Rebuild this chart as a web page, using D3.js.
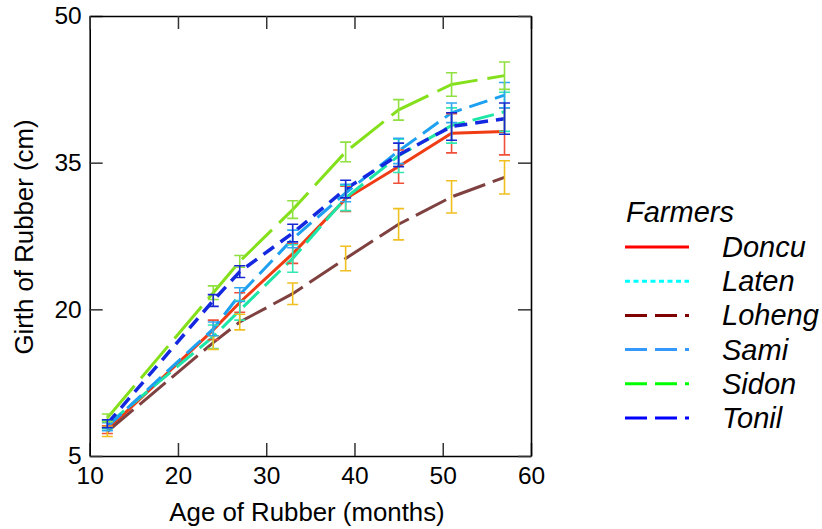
<!DOCTYPE html>
<html><head><meta charset="utf-8">
<script src="https://cdn.jsdelivr.net/npm/d3@7"></script>
<style>body{margin:0;background:#fff} svg{display:block} text{font-family:"Liberation Sans",Arial,sans-serif;fill:#000}</style>
</head><body><svg id="c" width="822" height="529"></svg>
<script>
// ---- data ----
const months = [12, 24, 27, 33, 39, 45, 51, 57];
const farmers = ["Doncu", "Laten", "Loheng", "Sami", "Sidon", "Tonil"];
const doncu  = [7.7, 17.9, 20.7, 25.7, 31.3, 34.6, 38.0, 38.2];
const laten  = [8.2, 17.2, 19.9, 25.2, 31.4, 35.7, 38.8, 40.2];
const loheng = [7.5, 16.6, 18.7, 21.6, 25.2, 28.7, 31.5, 33.5];
const sami   = [8.0, 18.0, 21.5, 27.2, 31.9, 36.2, 40.1, 41.9];
const sidon  = [8.9, 21.7, 24.9, 30.2, 36.1, 40.4, 43.0, 43.9];
const tonil  = [8.3, 20.9, 23.85, 27.8, 32.3, 35.8, 38.7, 39.5];
const doncuErr  = [0.4, 1.0, 1.0, 1.0, 1.3, 1.7, 2.0, 2.4];
const latenErr  = [0.4, 1.2, 1.0, 1.4, 1.3, 1.7, 1.8, 2.0];
const lohengErr = [0.5, 0.7, 0.8, 1.1, 1.25, 1.6, 1.65, 1.7];
const samiErr   = [0.4, 0.7, 0.7, 0.9, 0.9, 1.3, 1.0, 1.3];
const sidonErr  = [0.4, 0.7, 0.6, 0.9, 1.0, 1.05, 1.2, 1.4];
const tonilErr  = [0.4, 0.6, 0.6, 0.9, 0.9, 1.2, 1.4, 1.6];
const xTicks = [10, 20, 30, 40, 50, 60];
const yTicks = [5, 20, 35, 50];

// ---- styles ----
const lineColors   = ["#f03c14", "#1ee6a6", "#7f4040", "#1ea0f0", "#84e01a", "#1428e0"];
const errColors    = ["#f0503a", "#30e8b0", "#f0c020", "#30a8f0", "#90e040", "#1828d0"];
const lineDash     = [null, "22,8", "34,8", "19,8", "42,10", "13,8"];
const legendColors = ["#ff0000", "#00ffff", "#800000", "#3399ff", "#00ff00", "#0000ff"];
const legendDash   = [null, "5,3.5", "22,8,22,8,4,100", "22,8,22,8,4,100", "22,8,22,8,4,100", "22,8,22,8,4,100"];

const values = [doncu, laten, loheng, sami, sidon, tonil];
const errs = [doncuErr, latenErr, lohengErr, samiErr, sidonErr, tonilErr];
const series = farmers.map((f, i) => ({
  name: f, i,
  pts: months.map((m, j) => ({ x: m, y: values[i][j], e: errs[i][j] }))
}));

const svg = d3.select("#c");
const x = d3.scaleLinear().domain([10, 60]).range([89.7, 531]);
const y = d3.scaleLinear().domain([5, 50]).range([456, 16]);

// lines
const line = d3.line().x(d => x(d.x)).y(d => y(d.y));
svg.append("g").selectAll("path").data(series).join("path")
  .attr("d", d => line(d.pts))
  .attr("fill", "none")
  .attr("stroke", d => lineColors[d.i])
  .attr("stroke-width", d => d.name === "Tonil" ? 3.5 : 3)
  .attr("stroke-dasharray", d => lineDash[d.i]);

// error bars
const eb = svg.append("g");
series.forEach(s => {
  const g = eb.append("g").attr("stroke", errColors[s.i]).attr("stroke-width", 1.6).attr("fill", "none");
  g.selectAll("path").data(s.pts).join("path")
    .attr("d", d => {
      const cx = x(d.x), t = y(d.y + d.e), b = y(d.y - d.e), w = 5.5;
      return `M${cx - w},${t}H${cx + w}M${cx},${t}V${b}M${cx - w},${b}H${cx + w}`;
    });
});

// axes
const tickLen = 13;
function styleAxis(g) {
  g.select(".domain").attr("stroke", "#000").attr("stroke-width", 1.6);
  g.selectAll(".tick line").attr("stroke", "#333").attr("stroke-width", 1.5);
  g.selectAll("text").attr("font-size", 24.5).attr("fill", "#000");
}
svg.append("g").attr("transform", "translate(0,456)")
  .call(d3.axisBottom(x).tickValues(xTicks).tickSizeInner(-tickLen).tickSizeOuter(0).tickPadding(11).tickFormat(d3.format("d")))
  .call(styleAxis);
svg.append("g").attr("transform", "translate(89.7,0)")
  .call(d3.axisLeft(y).tickValues(yTicks).tickSizeInner(-tickLen).tickSizeOuter(0).tickPadding(8).tickFormat(d3.format("d")))
  .call(styleAxis);
svg.append("g").attr("transform", "translate(0,16)")
  .call(d3.axisTop(x).tickValues(xTicks).tickSizeInner(-tickLen).tickSizeOuter(0).tickFormat(""))
  .call(styleAxis);
svg.append("g").attr("transform", "translate(531,0)")
  .call(d3.axisRight(y).tickValues(yTicks).tickSizeInner(-tickLen).tickSizeOuter(0).tickFormat(""))
  .call(styleAxis);

// axis titles
svg.append("text").attr("x", 307).attr("y", 521).attr("text-anchor", "middle")
  .attr("font-size", 25.8).text("Age of Rubber (months)");
svg.append("text").attr("transform", "translate(33,237) rotate(-90)").attr("text-anchor", "middle")
  .attr("font-size", 25.8).text("Girth of Rubber (cm)");

// legend
const lg = svg.append("g");
lg.append("text").attr("x", 626).attr("y", 222).attr("font-size", 29).attr("font-style", "italic").text("Farmers");
const rowY = d3.scaleLinear().domain([0, 5]).range([247, 418]);
farmers.forEach((f, i) => {
  lg.append("line").attr("x1", 625).attr("x2", 689).attr("y1", rowY(i)).attr("y2", rowY(i))
    .attr("stroke", legendColors[i]).attr("stroke-width", 3)
    .attr("stroke-dasharray", legendDash[i]);
  lg.append("text").attr("x", 722).attr("y", rowY(i) + 10).attr("font-size", 29)
    .attr("font-style", "italic").text(f);
});
</script></body></html>
